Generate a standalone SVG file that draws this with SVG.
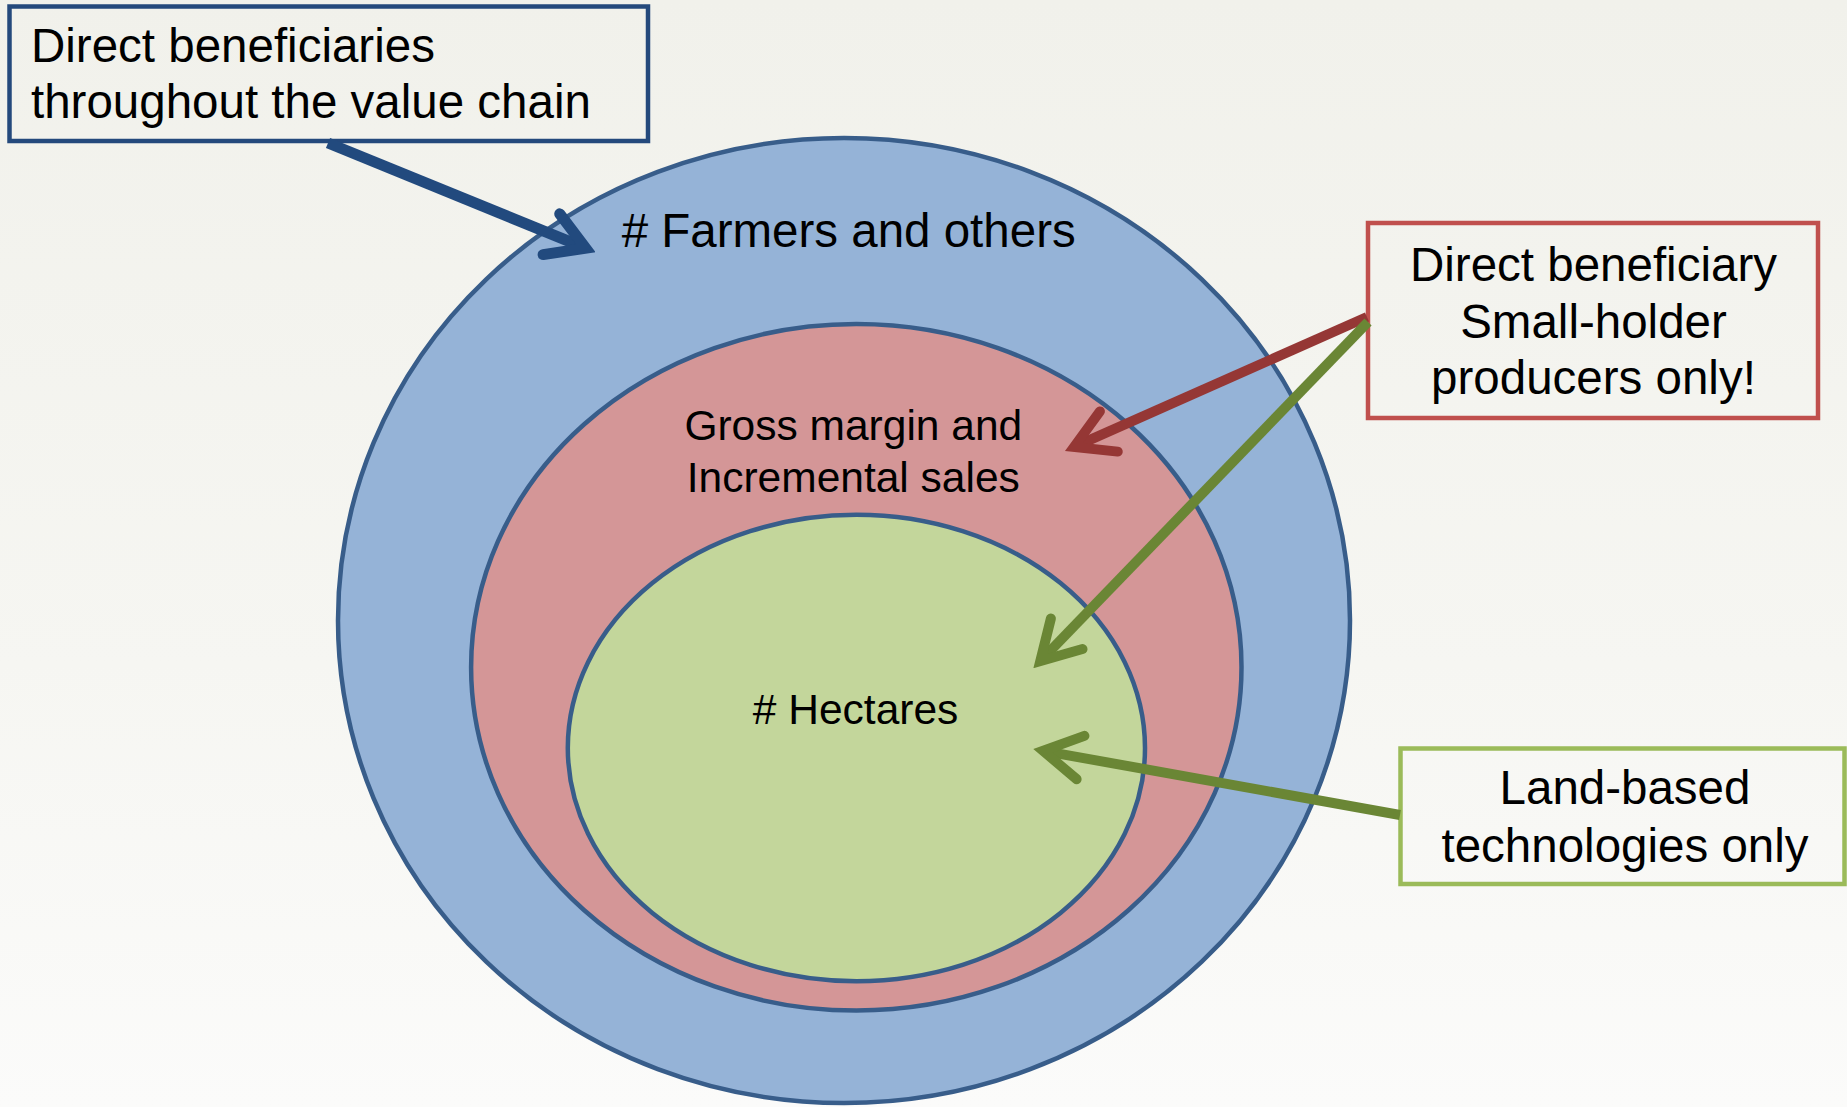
<svg xmlns="http://www.w3.org/2000/svg" width="1847" height="1107" viewBox="0 0 1847 1107">
  <defs>
    <linearGradient id="bg" x1="0" y1="0" x2="0" y2="1">
      <stop offset="0" stop-color="#F1F1EB"/>
      <stop offset="0.6" stop-color="#F6F6F2"/>
      <stop offset="1" stop-color="#FBFBFA"/>
    </linearGradient>
    <marker id="ah-blue" markerUnits="userSpaceOnUse" viewBox="-60 -35 70 70" refX="0" refY="0" markerWidth="70" markerHeight="70" orient="auto">
      <path d="M-37,-22 L0,0 L-37,22" fill="none" stroke="#224A7E" stroke-width="11" stroke-linecap="round" stroke-linejoin="miter"/>
    </marker>
    <marker id="ah-red" markerUnits="userSpaceOnUse" viewBox="-60 -35 70 70" refX="0" refY="0" markerWidth="70" markerHeight="70" orient="auto">
      <path d="M-38,-22 L0,0 L-38,22" fill="none" stroke="#953735" stroke-width="10" stroke-linecap="round" stroke-linejoin="miter"/>
    </marker>
    <marker id="ah-green" markerUnits="userSpaceOnUse" viewBox="-60 -35 70 70" refX="0" refY="0" markerWidth="70" markerHeight="70" orient="auto">
      <path d="M-38,-22 L0,0 L-38,22" fill="none" stroke="#6A8635" stroke-width="10" stroke-linecap="round" stroke-linejoin="miter"/>
    </marker>
  </defs>
  <style>
    .ring { stroke: #385D8A; stroke-width: 4.5; }
    .lbl { font-family: "Liberation Sans", Arial, sans-serif; fill: #000000; }
    .big { font-size: 47.5px; }
    .mid { font-size: 42.5px; }
    .box { fill: none; stroke-width: 4.5; }
    .conn { fill: none; stroke-linecap: butt; }
  </style>
  <rect x="0" y="0" width="1847" height="1107" fill="url(#bg)"/>

  <g id="node-farmers">
    <ellipse class="ring" cx="844" cy="620.5" rx="506" ry="482.5" fill="#95B3D7"/>
    <text class="lbl big" x="848.7" y="247" text-anchor="middle"># Farmers and others</text>
  </g>
  <g id="node-gross-margin">
    <ellipse class="ring" cx="856.3" cy="667.3" rx="385.2" ry="343.3" fill="#D49697"/>
    <text class="lbl mid" x="853.3" y="440" text-anchor="middle">Gross margin and</text>
    <text class="lbl mid" x="853.3" y="491.7" text-anchor="middle">Incremental sales</text>
  </g>
  <g id="node-hectares">
    <ellipse class="ring" cx="856.4" cy="748" rx="288.6" ry="233.2" fill="#C3D69B"/>
    <text class="lbl mid" x="855.6" y="724" text-anchor="middle"># Hectares</text>
  </g>

  <g id="node-value-chain">
    <rect class="box" x="9.5" y="6.5" width="638.5" height="134.5" stroke="#24497C"/>
    <text class="lbl big" x="31" y="62">Direct beneficiaries</text>
    <text class="lbl big" x="31" y="118">throughout the value chain</text>
  </g>
  <g id="node-smallholder">
    <rect class="box" x="1368" y="223" width="450" height="195" stroke="#C0504D"/>
    <text class="lbl big" x="1593.5" y="280.5" text-anchor="middle">Direct beneficiary</text>
    <text class="lbl big" x="1593.5" y="337.5" text-anchor="middle">Small-holder</text>
    <text class="lbl big" x="1593.5" y="394" text-anchor="middle">producers only!</text>
  </g>
  <g id="node-land">
    <rect class="box" x="1400.5" y="748.5" width="444" height="135.5" stroke="#9BBB59"/>
    <text class="lbl big" x="1625" y="803.5" text-anchor="middle">Land-based</text>
    <text class="lbl big" x="1625" y="861.5" text-anchor="middle">technologies only</text>
  </g>

  <g id="connectors">
    <line class="conn" x1="328" y1="143" x2="585.7" y2="248.2" stroke="#224A7E" stroke-width="11" marker-end="url(#ah-blue)"/>
    <line class="conn" x1="1367" y1="317" x2="1074.1" y2="446.9" stroke="#953735" stroke-width="10" marker-end="url(#ah-red)"/>
    <line class="conn" x1="1368" y1="322" x2="1040.3" y2="661.1" stroke="#6A8635" stroke-width="10" marker-end="url(#ah-green)"/>
    <line class="conn" x1="1400" y1="815" x2="1043.1" y2="750.8" stroke="#6A8635" stroke-width="10" marker-end="url(#ah-green)"/>
  </g>
</svg>
